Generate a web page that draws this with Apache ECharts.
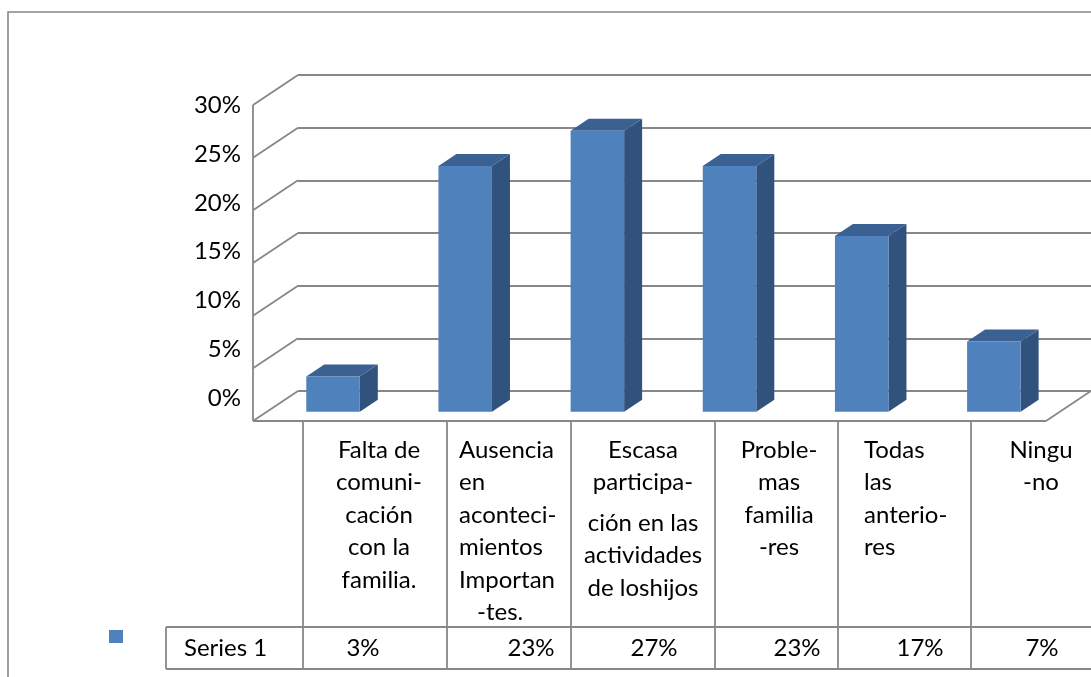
<!DOCTYPE html>
<html>
<head>
<meta charset="utf-8">
<script src="https://cdn.jsdelivr.net/npm/echarts@6/dist/echarts.min.js"></script>
<style>
html,body{margin:0;padding:0;background:#fff;}
#chart{width:1091px;height:677px;}
</style>
</head>
<body>
<div id="chart"></div>
<script>
// ---- data ----
const categories = [
  ["Falta de", "comuni-", "cación", "con la", "familia."],
  ["Ausencia", "en", "aconteci-", "mientos", "Importan", "-tes."],
  ["Escasa", "participa-", "ción en las", "actividades", "de loshijos"],
  ["Proble-", "mas", "familia", "-res"],
  ["Todas", "las", "anterio-", "res"],
  ["Ningu", "-no"]
];
const seriesName = "Series 1";
const values = [3.33, 23.33, 26.67, 23.33, 16.67, 6.67];
const yMin = 0, yMax = 30, yStep = 5;
const yTicks = [0, 5, 10, 15, 20, 25, 30];

// ---- layout / style ----
const FONT = "Lato";
const GRAY = "#878787";
const TXT = "#000";
const DX = -45, DY = 30;          // back wall -> front edge offset
const FRONT_F = 0.69, BACK_F = 0.29; // bar front/back depth fractions
const BAR_RATIO = 0.405;
const C_FRONT = "#4F81BD", C_TOP = "#3A6192", C_SIDE = "#31527C";

const tableCols = [166, 303, 447, 571, 715, 838, 971, 1115];
const headerTop = 422, rowTop = 627, rowBottom = 669;
const headerLayout = [
  {align: "center", x: 379},
  {align: "left", x: 459},
  {align: "center", x: 643},
  {align: "center", x: 779},
  {align: "left", x: 864},
  {align: "center", x: 1041}
];
const headerIndent = {1: {5: 18}};
const headerExtraGap = {2: 8};
const valueCenters = [363, 531, 654, 797, 920, 1042];

const chart = echarts.init(document.getElementById("chart"));

const graphics = [];
// outer frame
graphics.push({type: "rect", shape: {x: 8, y: 12, width: 1200, height: 800},
  style: {fill: "none", stroke: GRAY, lineWidth: 1.6}, silent: true});
// table lines
for (let i = 1; i < tableCols.length - 1; i++) {
  graphics.push({type: "line", shape: {x1: tableCols[i], y1: headerTop, x2: tableCols[i], y2: rowBottom},
    style: {stroke: GRAY, lineWidth: 1.8}, silent: true});
}
graphics.push({type: "line", shape: {x1: tableCols[0], y1: rowTop, x2: tableCols[0], y2: rowBottom},
  style: {stroke: GRAY, lineWidth: 1.8}, silent: true});
[rowTop, rowBottom].forEach(y => graphics.push({type: "line",
  shape: {x1: tableCols[0], y1: y, x2: 1200, y2: y}, style: {stroke: GRAY, lineWidth: 1.8}, silent: true}));
// header texts
categories.forEach((lines, c) => {
  const L = headerLayout[c];
  lines.forEach((t, k) => {
    const indent = (headerIndent[c] && headerIndent[c][k]) || 0;
    const extra = (k >= 2 && headerExtraGap[c]) ? headerExtraGap[c] : 0;
    graphics.push({type: "text", x: L.x + indent, y: 450 + k * 32.5 + extra,
      style: {text: t, font: "24px " + FONT, fill: TXT, align: L.align, verticalAlign: "middle"}, silent: true});
  });
});
// series label + legend key
graphics.push({type: "rect", shape: {x: 109, y: 630, width: 14, height: 13}, style: {fill: C_FRONT}, silent: true});
graphics.push({type: "text", x: 184, y: 648,
  style: {text: seriesName, font: "24px " + FONT, fill: TXT, align: "left", verticalAlign: "middle"}, silent: true});
values.forEach((v, i) => {
  graphics.push({type: "text", x: valueCenters[i], y: 648,
    style: {text: Math.round(v) + "%", font: "24px " + FONT, fill: TXT, align: "center", verticalAlign: "middle"}, silent: true});
});

const option = {
  animation: false,
  grid: [
    {left: 298, top: 75, width: 800, height: 316},
    {left: 253, top: 105.5, width: 10, height: 292.5}
  ],
  xAxis: [
    {type: "category", gridIndex: 0, data: categories.map(c => c.join(" ")), show: false},
    {type: "value", gridIndex: 1, show: false}
  ],
  yAxis: [
    {type: "value", gridIndex: 0, min: yMin, max: yMax, interval: yStep,
      axisLine: {show: false}, axisTick: {show: false}, axisLabel: {show: false},
      splitLine: {show: true, lineStyle: {color: GRAY, width: 1.8}}},
    {type: "value", gridIndex: 1, min: yMin, max: yMax, interval: yStep,
      axisLine: {show: false}, axisTick: {show: false}, splitLine: {show: false},
      axisLabel: {formatter: "{value}%", fontFamily: FONT, fontSize: 24, color: TXT, margin: 12}}
  ],
  graphic: graphics,
  series: [
    {
      type: "custom", name: "walls", xAxisIndex: 0, yAxisIndex: 0, z: 1,
      data: yTicks.map(t => [0, t]),
      encode: {x: 0, y: 1},
      renderItem: function (params, api) {
        const cs = params.coordSys;
        const v = api.value(1);
        const y = api.coord([0, v])[1];
        const x0 = cs.x;
        const ls = {stroke: GRAY, lineWidth: 1.8, fill: null};
        const ch = [{type: "line", shape: {x1: x0, y1: y, x2: x0 + DX, y2: y + DY}, style: ls}];
        if (params.dataIndex === 0) {
          const yTop = api.coord([0, yMax])[1];
          const xr = x0 + cs.width;
          ch.push({type: "line", shape: {x1: x0 + DX, y1: yTop + DY, x2: x0 + DX, y2: y + DY}, style: ls});
          ch.push({type: "line", shape: {x1: x0 + DX, y1: y + DY, x2: xr + DX, y2: y + DY}, style: ls});
          ch.push({type: "line", shape: {x1: xr + DX, y1: y + DY, x2: xr, y2: y}, style: ls});
        }
        return {type: "group", children: ch};
      }
    },
    {
      type: "custom", name: seriesName, xAxisIndex: 0, yAxisIndex: 0, z: 3,
      data: values.map((v, i) => [i, v]),
      encode: {x: 0, y: 1},
      renderItem: function (params, api) {
        const i = api.value(0), v = api.value(1);
        const base = api.coord([i, 0]);
        const top = api.coord([i, v]);
        const bw = api.size([1, 0])[0] * BAR_RATIO;
        const fx = DX * FRONT_F, fy = DY * FRONT_F;
        const sx = -DX * (FRONT_F - BACK_F), sy = -DY * (FRONT_F - BACK_F);
        const xl = base[0] + fx - bw / 2, xr = xl + bw;
        const yt = top[1] + fy, yb = base[1] + fy;
        return {type: "group", children: [
          {type: "polygon", shape: {points: [[xr, yt], [xr + sx, yt + sy], [xr + sx, yb + sy], [xr, yb]]},
            style: {fill: C_SIDE}},
          {type: "polygon", shape: {points: [[xl, yt], [xr, yt], [xr + sx, yt + sy], [xl + sx, yt + sy]]},
            style: {fill: C_TOP}},
          {type: "rect", shape: {x: xl, y: yt, width: bw, height: yb - yt},
            style: {fill: C_FRONT}}
        ]};
      }
    }
  ]
};
chart.setOption(option);
</script>
</body>
</html>
